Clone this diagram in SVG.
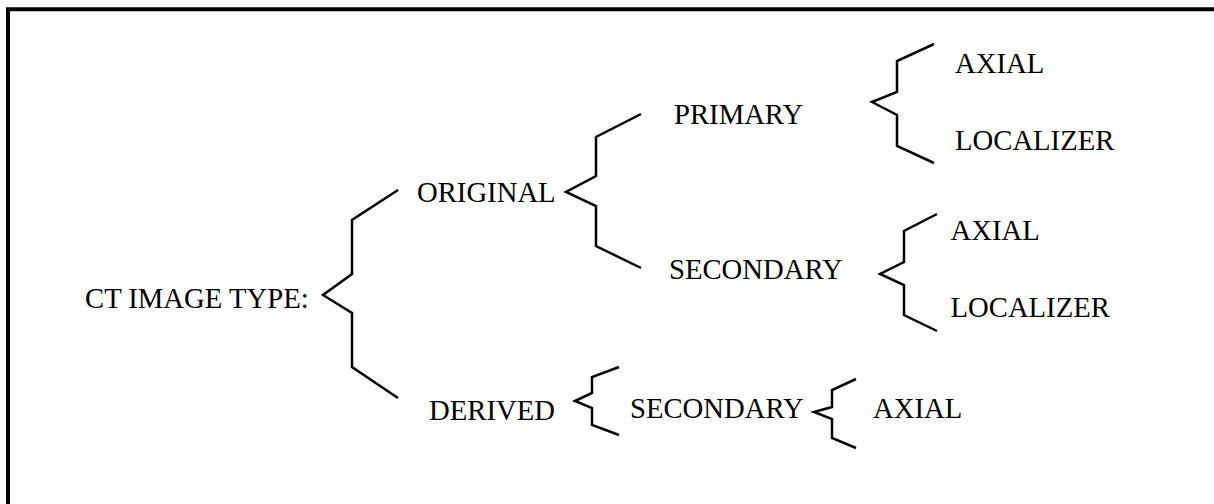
<svg xmlns="http://www.w3.org/2000/svg" width="1214" height="504" viewBox="0 0 1214 504">
<style>
  .t { font-family: 'Liberation Serif', Tinos, 'Times New Roman', 'DejaVu Serif', serif; font-size: 28.7px; fill: #000; }
  .b { fill: none; stroke: #000; stroke-width: 2.5; stroke-linejoin: miter; }
  .frame { fill: none; stroke: #000; stroke-width: 4; }
</style>
<rect width="1214" height="504" fill="#fff"/>
<path class="frame" d="M8,504 L8,9.3 L1214,9.3"/>
<g id="connectors">
  <path class="b" d="M398,190 L352,220 L352,274 L323,295 L352,313 L352,367 L398,398"/>
  <path class="b" d="M641,114 L596,137 L596,176 L566,192 L596,206 L596,246 L641,268"/>
  <path class="b" d="M934,44 L897,61 L897,92 L872,102 L897,115 L897,146 L934,163"/>
  <path class="b" d="M937,214 L904,231 L904,262 L880,274 L904,285 L904,315 L937,331"/>
  <path class="b" d="M619,367 L592,377 L592,393 L575,401 L592,408 L592,425 L619,435"/>
  <path class="b" d="M856,379 L832,390 L832,407 L814,412 L832,419 L832,438 L856,448"/>
</g>
<g id="ct"><text class="t" x="85" y="307.5">CT IMAGE TYPE:</text></g>
<g id="original"><text class="t" x="417" y="201.5">ORIGINAL</text></g>
<g id="derived"><text class="t" x="429" y="420">DERIVED</text></g>
<g id="primary"><text class="t" x="674" y="124">PRIMARY</text></g>
<g id="secondary1"><text class="t" x="669" y="278.5">SECONDARY</text></g>
<g id="axial1"><text class="t" x="955" y="73.3">AXIAL</text></g>
<g id="localizer1"><text class="t" x="955" y="150">LOCALIZER</text></g>
<g id="axial2"><text class="t" x="950.5" y="240">AXIAL</text></g>
<g id="localizer2"><text class="t" x="950.5" y="316.7">LOCALIZER</text></g>
<g id="secondary2"><text class="t" x="630" y="417.7">SECONDARY</text></g>
<g id="axial3"><text class="t" x="873" y="417.7">AXIAL</text></g>
</svg>
